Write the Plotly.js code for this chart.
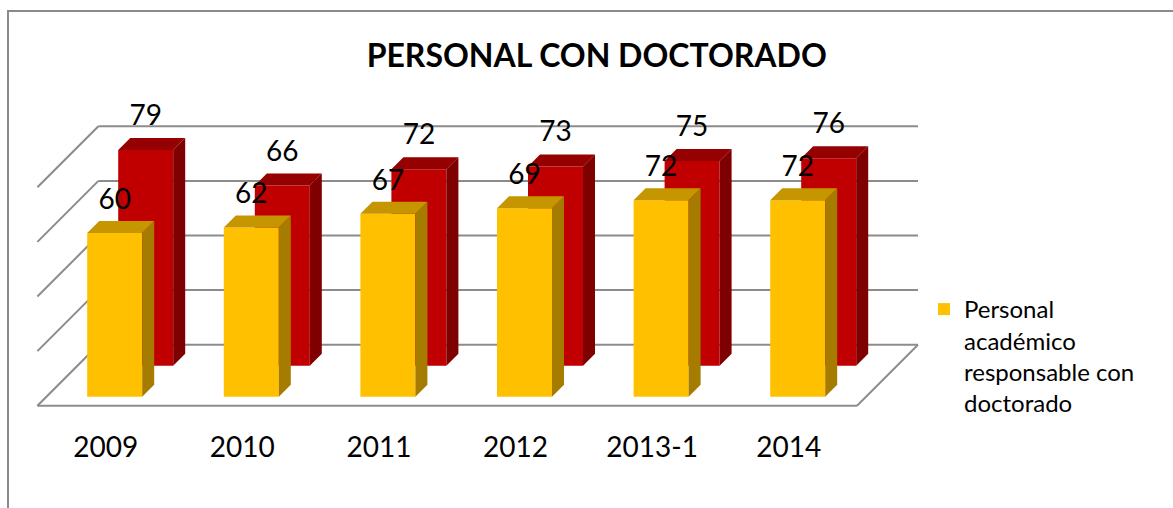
<!DOCTYPE html>
<html><head><meta charset="utf-8">
<script src="https://cdn.plot.ly/plotly-3.0.1.min.js"></script>
<style>html,body{margin:0;padding:0;background:#fff;} #chart{width:1173px;height:508px;}</style>
</head><body><div id="chart"></div>
<script>
// ---- data ----
const categories = ['2009', '2010', '2011', '2012', '2013-1', '2014'];
const frontSeriesName = 'Personal<br>académico<br>responsable con<br>doctorado';
const frontValues = [60, 62, 67, 69, 72, 72];
const backValues = [79, 66, 72, 73, 75, 76];
const gridValues = [0, 20, 40, 60, 80];
const chartTitle = 'PERSONAL CON DOCTORADO';

// ---- oblique 3D geometry (pixels) ----
const W = 1173, H = 508, MB = 80;
const CAT_PX = 136.6, VAL_PX = 2.73;
const ORIGIN_X = 105.7, ORIGIN_Y = 405.7;
const kx = 1 / CAT_PX, ky = 1 / VAL_PX;
const FLOOR_DEPTH = 61, BAR_DEPTH = 12, HALF_W = 0.2013;
const Z_FRONT = 9, Z_BACK = 40;
const xr = [-ORIGIN_X * kx, (W - ORIGIN_X) * kx];
const yr = [(ORIGIN_Y - (H - MB)) * ky, ORIGIN_Y * ky];
const idx = categories.map((c, i) => i);
const FONT = 'Lato, "Open Sans", sans-serif';

function boxTraces(vals, z, cFront, cTop, cSide, name, showLeg) {
  const base = z * ky, dx = BAR_DEPTH * kx, dy = BAR_DEPTH * ky;
  const sx = [], sy = [], tx = [], ty = [];
  vals.forEach((v, i) => {
    const cx = i + z * kx, x0 = cx - HALF_W, x1 = cx + HALF_W;
    sx.push(x1, x1 + dx, x1 + dx, x1, x1, null);
    sy.push(base, base + dy, base + dy + v, base + v, base, null);
    tx.push(x0, x1, x1 + dx, x0 + dx, x0, null);
    ty.push(base + v, base + v, base + v + dy, base + v + dy, base + v, null);
  });
  return [
    {type: 'bar', x: idx.map(i => i + z * kx), y: vals, base: base, width: 2 * HALF_W,
     marker: {color: cFront, line: {width: 0}}, name: name, showlegend: showLeg, hoverinfo: 'y'},
    {type: 'scatter', mode: 'lines', x: sx, y: sy, fill: 'toself', fillcolor: cSide,
     line: {width: 0, color: cSide}, showlegend: false, hoverinfo: 'skip'},
    {type: 'scatter', mode: 'lines', x: tx, y: ty, fill: 'toself', fillcolor: cTop,
     line: {width: 0, color: cTop}, showlegend: false, hoverinfo: 'skip'}
  ];
}
function labelTrace(vals, z, lift) {
  return {type: 'scatter', mode: 'text', x: idx.map(i => i + z * kx),
    y: vals.map(v => z * ky + v + lift * ky), text: vals.map(String),
    textposition: 'middle center', textfont: {family: FONT, size: 28, color: '#000'},
    cliponaxis: false, showlegend: false, hoverinfo: 'skip'};
}

const traces = [].concat(
  boxTraces(backValues, Z_BACK, '#C00000', '#950000', '#7F0000', 'back', false),
  boxTraces(frontValues, Z_FRONT, '#FFC000', '#C69600', '#A67C00', frontSeriesName, true),
  [labelTrace(backValues, Z_BACK, 32), labelTrace(frontValues, Z_FRONT, 31)]
);

// walls, floor, gridlines
const gl = {color: '#8c8c8c', width: 2};
const shapes = [];
const bx = FLOOR_DEPTH * kx, by = FLOOR_DEPTH * ky;
const xL = -0.5, xR = categories.length - 0.5;
gridValues.forEach(v => {
  shapes.push({type: 'line', xref: 'x', yref: 'y', layer: 'below', x0: xL + bx, y0: v + by, x1: xR + bx, y1: v + by, line: gl});
  shapes.push({type: 'line', xref: 'x', yref: 'y', layer: 'below', x0: xL, y0: v, x1: xL + bx, y1: v + by, line: gl});
});
shapes.push({type: 'line', xref: 'x', yref: 'y', layer: 'below', x0: xL, y0: 0, x1: xR, y1: 0, line: gl});
shapes.push({type: 'line', xref: 'x', yref: 'y', layer: 'below', x0: xR, y0: 0, x1: xR + bx, y1: by, line: gl});
// chart frame
const ph = H - MB;
shapes.push({type: 'path', xref: 'paper', yref: 'paper', layer: 'above',
  path: `M ${8 / W} ${(ph - H) / ph} L ${8 / W} ${1 - 11 / ph} L 1 ${1 - 11 / ph}`,
  line: {color: '#8a8a8a', width: 2}});

const layout = {
  width: W, height: H, margin: {l: 0, r: 0, t: 0, b: MB},
  paper_bgcolor: '#fff', plot_bgcolor: 'rgba(0,0,0,0)',
  barmode: 'overlay', showlegend: true,
  title: {text: '<b>' + chartTitle + '</b>', xref: 'container', yref: 'container',
    x: 596.7 / W, xanchor: 'center', y: 1 - 56 / H, yanchor: 'middle',
    font: {family: FONT, size: 32, color: '#000'}},
  xaxis: {type: 'linear', range: xr, tickvals: idx, ticktext: categories, showgrid: false,
    zeroline: false, showline: false, ticks: '', tickfont: {family: FONT, size: 28, color: '#000'},
    fixedrange: true},
  yaxis: {range: yr, visible: false, fixedrange: true},
  legend: {x: 924 / W, xanchor: 'left', y: 1 - 287 / ph, yanchor: 'top', valign: 'top',
    font: {family: FONT, size: 24, color: '#000'}, bgcolor: 'rgba(0,0,0,0)'},
  shapes: shapes
};
Plotly.newPlot('chart', traces, layout, {displayModeBar: false, staticPlot: true});
</script></body></html>
